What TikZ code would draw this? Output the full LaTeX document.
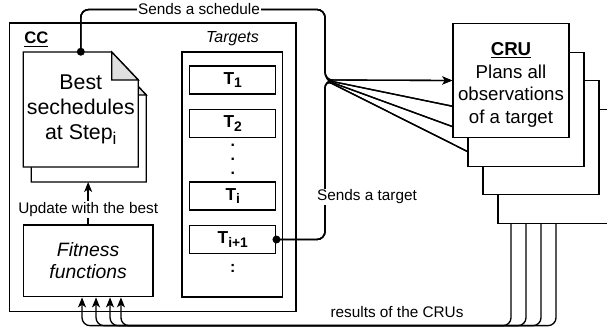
\documentclass[tikz,border=0pt]{standalone}
\usepackage{fontspec}
\setmainfont{Liberation Sans}
\usetikzlibrary{arrows.meta,backgrounds}
\newcommand{\lowsub}[1]{\raisebox{-0.4ex}{\scalebox{0.8}{#1}}}
\tikzstyle{box}=[draw,line width=1pt,fill=white,inner sep=0pt]
\tikzstyle{frame}=[draw,line width=1pt,inner sep=0pt]
\tikzstyle{tbox}=[box,minimum width=64.5pt,minimum height=21pt,font=\fontsize{13}{15}\selectfont\bfseries]
\tikzstyle{crubox}=[box,minimum width=87pt,minimum height=85.5pt]
\tikzstyle{edge}=[draw,line width=1pt,rounded corners=6pt,-{Stealth[length=7.5pt,width=6pt,inset=2pt]}]
\tikzstyle{lbl}=[font=\fontsize{11.5}{13}\selectfont,inner sep=1pt]
\tikzstyle{dot}=[circle,fill=black,inner sep=0pt,minimum size=6pt]

\begin{document}
\begin{tikzpicture}[x=0.75pt,y=-0.75pt]
    \useasboundingbox (0,0) rectangle (607,332);

    % central computer
    \node[frame,minimum width=214.9pt,minimum height=216.5pt] (cc) at (152.75,167.35) {};
    \node[anchor=west,inner sep=0pt,font=\fontsize{12.5}{15}\selectfont\bfseries] (cclbl) at (24,39.5) {\underline{CC}};

    % list of targets
    \node[frame,minimum width=75.4pt,minimum height=183.75pt] (targets) at (232.25,174.5) {};
    \node[font=\fontsize{12}{14}\selectfont\itshape] (tgtlbl) at (232.5,39) {Targets};
    \foreach \y/\name/\txt in {80/t1/{T\lowsub{1}}, 123.5/t2/{T\lowsub{2}}, 196/ti/{T\lowsub{i}}, 239.5/tnext/{T\lowsub{i+1}}}
        \node[tbox] (\name) at (232.8,\y) {\txt};
    \node[align=center,font=\fontsize{12}{10.5}\selectfont\bfseries] (vdots) at (232.8,159) {.\\.\\.};
    \node[font=\fontsize{12}{14}\selectfont\bfseries] (more) at (232.8,268) {:};

    % fitness
    \node[box,minimum width=97.3pt,minimum height=53.8pt,align=center,font=\fontsize{14.5}{16.7}\selectfont\itshape] (fit) at (88.15,260.85) {Fitness\\functions};

    % best schedules (two pages)
    \foreach \dx/\dy in {8/15, 0/0} {
        \begin{scope}[shift={(\dx,\dy)}]
            \draw[line width=1pt,fill=white] (23.3,167) -- (23.3,52) -- (111.7,52) -- (138.3,80) -- (138.3,167) -- cycle;
            \draw[line width=1pt,fill=black!12] (111.7,52) -- (111.7,80) -- (138.3,80) -- cycle;
        \end{scope}
    }
    \node[align=center,minimum width=86.25pt,minimum height=86.25pt,font=\fontsize{16}{19}\selectfont] (best) at (80.8,109.5) {Best\\sechedules\\at Step\lowsub{i}};
    \coordinate (bestback) at (88.8,182);
    \path[edge] (fit.north) -- node[lbl,fill=white,pos=0.35] (updlbl) {Update with the best} (fit.north |- bestback);

    % CRUs
    \foreach \k/\x/\y in {4/556/166.5, 3/541/137.5, 2/526/109.3, 1/511/80.5}
        \node[crubox] (cru\k) at (\x,\y) {};
    \node[align=center,font=\fontsize{14}{17}\selectfont] (crutxt) at (511,85) {\textbf{\underline{CRU}}\\Plans all\\observations\\of a target};

    \coordinate (hub) at (325,80);
    \coordinate (sched) at (325,9.5);

    \begin{scope}[on background layer]
    \foreach \k in {1,...,4} {
        \path[edge] (best.north) |- (sched) -- (hub) -- (cru\k.west);
        \path[edge] (tnext.east) -| (hub) -- (cru\k.west);
    }
    \foreach \k/\dx in {1/-4.6, 2/5.9, 3/16.4, 4/24.6}
        \path[edge] (cru\k.south) |- ([xshift=\dx pt,yshift=-21.2pt]fit.south) -- ([xshift=\dx pt]fit.south);
    \end{scope}

    \node[dot] (d1) at (best.north) {};
    \node[dot] (d2) at (tnext.east) {};

    \node[lbl,fill=white] (schedlbl) at (199,9.5) {Sends a schedule};
    \node[lbl,fill=white] (sendlbl) at (367,197) {Sends a target};
    \node[lbl] (reslbl) at (397,312) {results of the CRUs};

\end{tikzpicture}
\end{document}
